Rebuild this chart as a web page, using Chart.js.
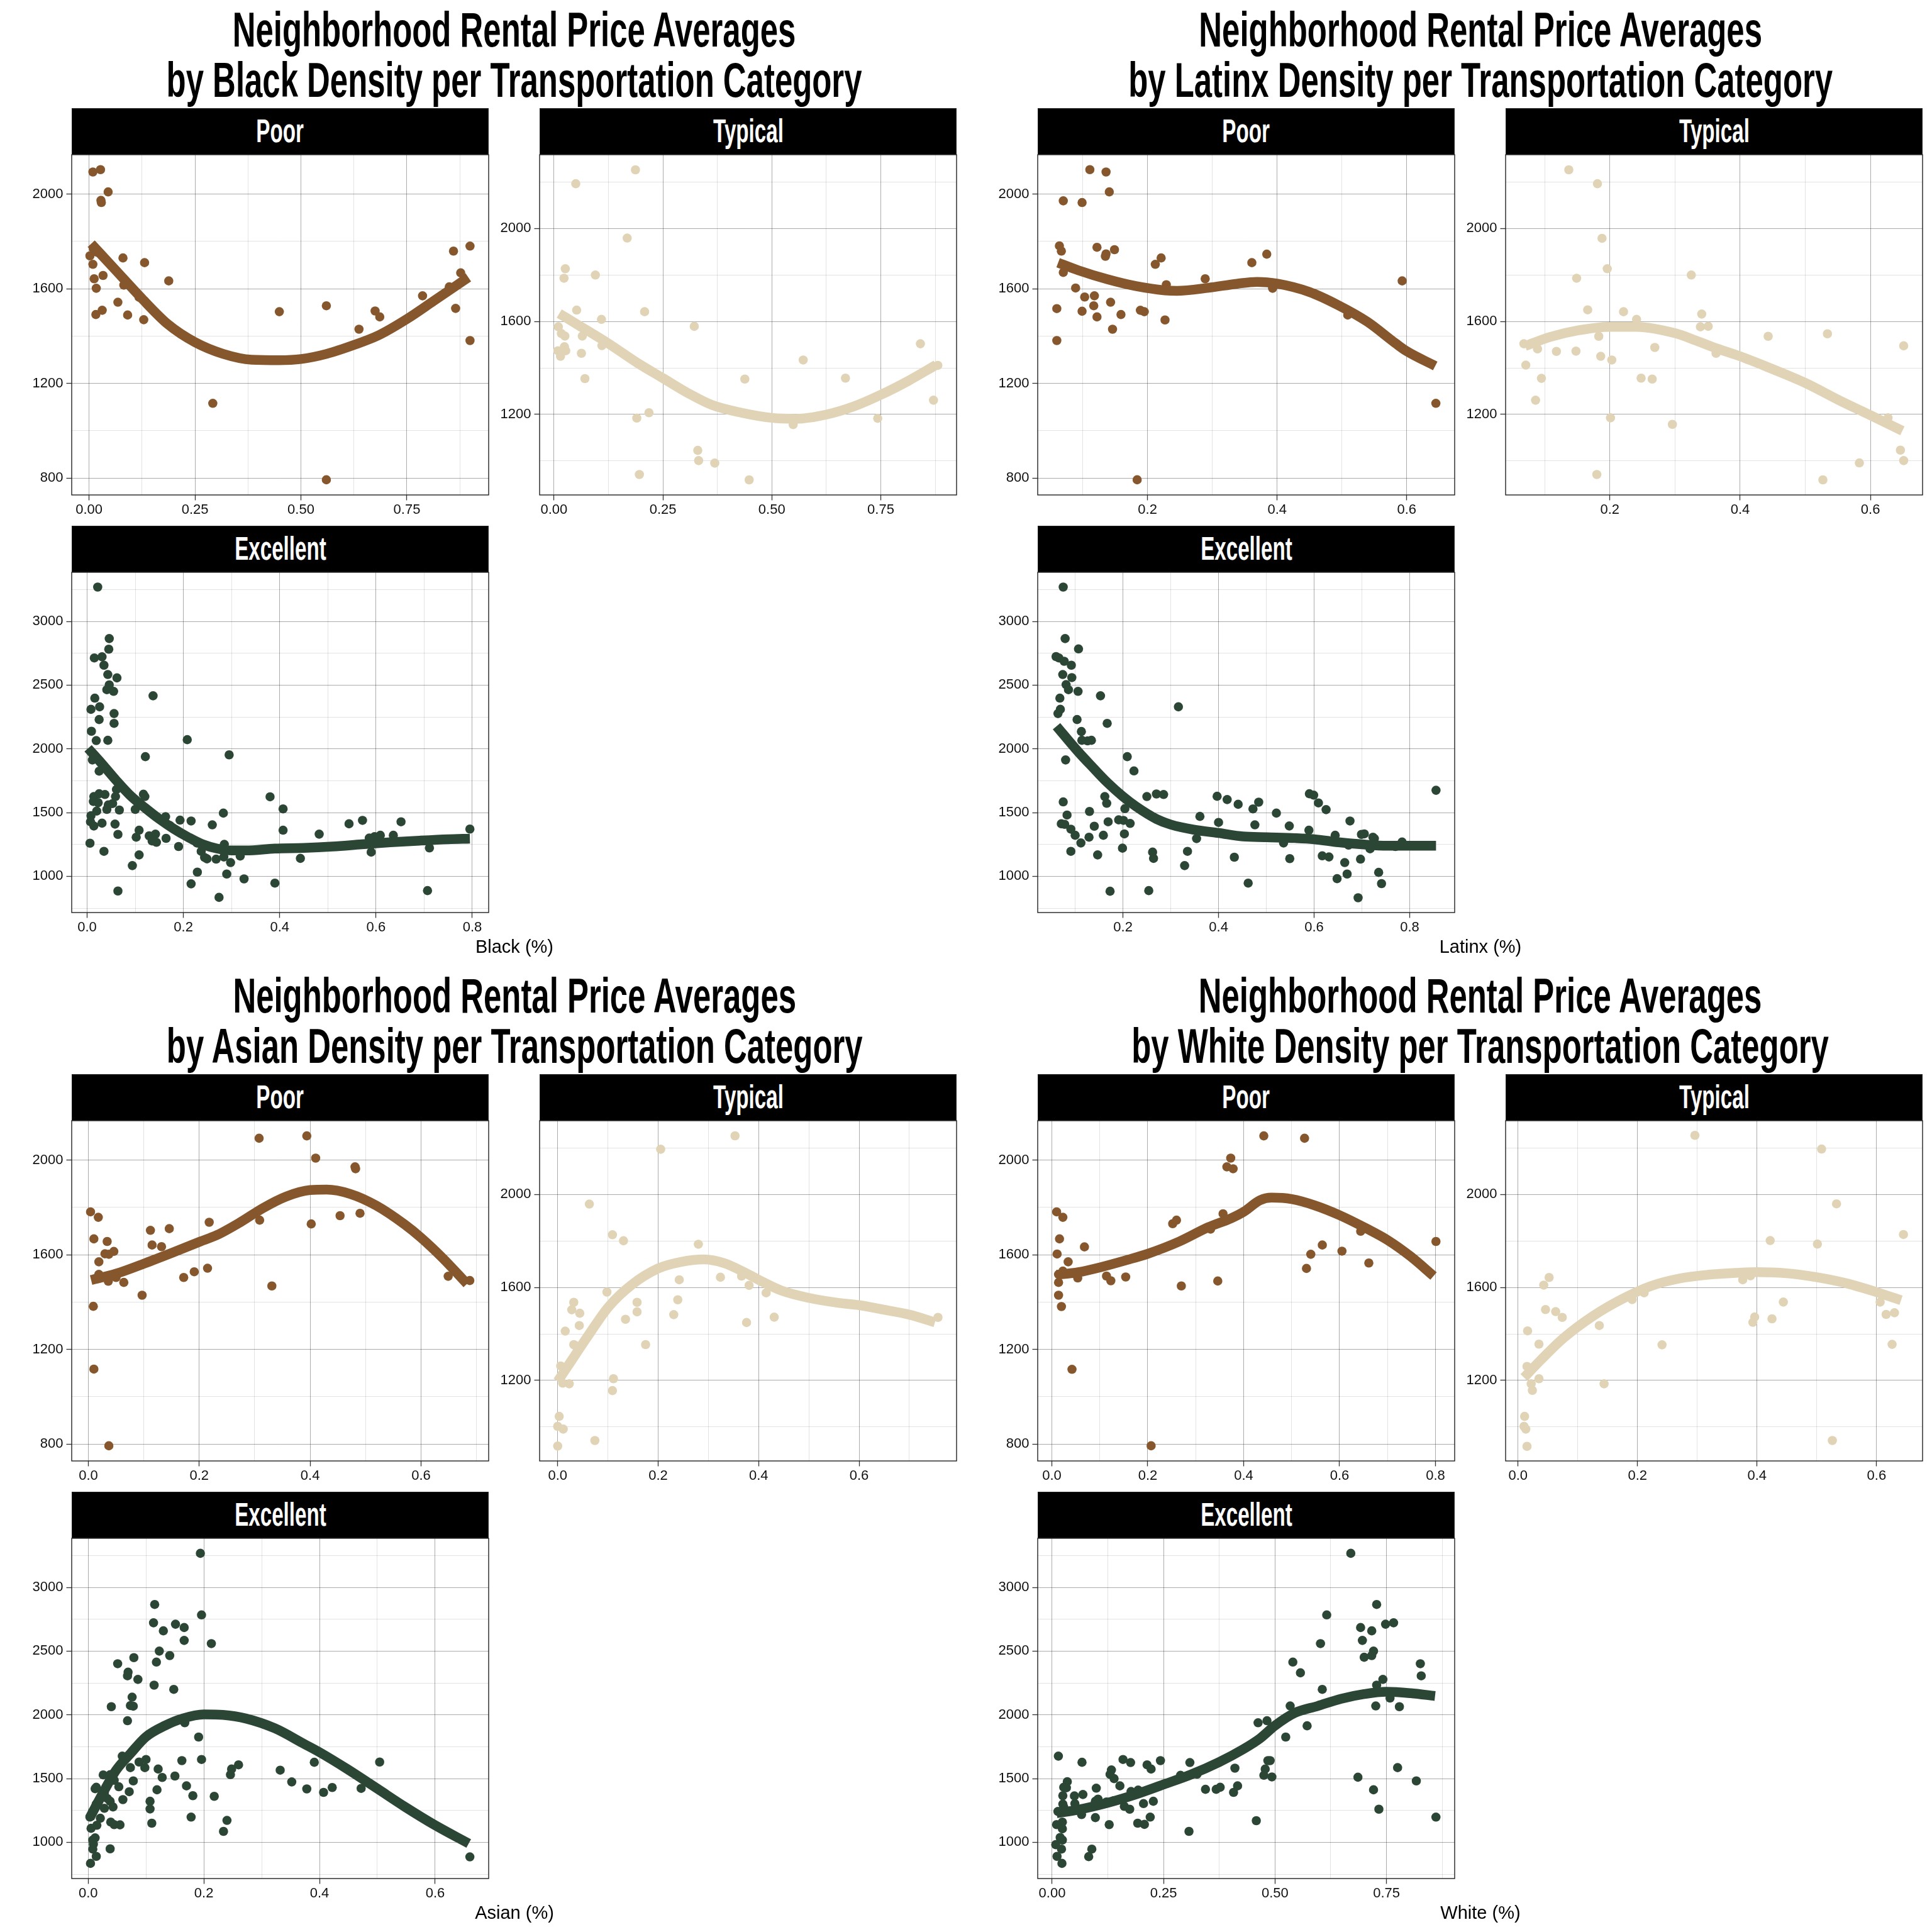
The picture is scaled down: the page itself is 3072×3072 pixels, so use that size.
<!DOCTYPE html>
<html>
<head>
<meta charset="utf-8">
<script src="https://cdn.jsdelivr.net/npm/chart.js@4.4.0/dist/chart.umd.min.js"></script>
<style>
html, body { margin: 0; padding: 0; background: #fff; }
#root { position: relative; width: 3072px; height: 3072px; overflow: hidden; background: #fff; }
canvas { position: absolute; }
.title { position: absolute; width: 1800px; text-align: center; font-family: 'Liberation Sans', Arial, sans-serif; font-weight: bold; font-size: 77px; line-height: 80px; color: #000; white-space: nowrap; }
.title span { display: inline-block; transform: scaleX(0.661); transform-origin: 50% 50%; }
.strip { position: absolute; background: #000; color: #fff; text-align: center; font-family: 'Liberation Sans', Arial, sans-serif; font-weight: bold; font-size: 51px; white-space: nowrap; box-sizing: border-box; border: 1px solid #222; }
.strip span { display: inline-block; transform: scaleX(0.65); transform-origin: 50% 50%; }
.xtitle { position: absolute; width: 600px; text-align: center; font-family: 'Liberation Sans', Arial, sans-serif; font-size: 29px; line-height: 29px; color: #000; }
</style>
</head>
<body>
<div id="root"></div>
<script>
// ---------- categories ----------
const groups = ['Black', 'Latinx', 'Asian', 'White'];
const categories = ['Poor', 'Typical', 'Excellent'];

// ---------- Black ----------
const blackPoorX = [0.009,0.027,0.045,0.028,0.029,0.002,0.010,0.019,0.009,0.012,0.033,0.017,0.016,0.031,0.080,0.131,0.082,0.068,0.091,0.129,0.188,0.118,0.292,0.449,0.560,0.560,0.637,0.675,0.686,0.787,0.850,0.860,0.865,0.877,0.899,0.899];
const blackPoorY = [2093,2103,2009,1973,1964,1739,1770,1754,1703,1642,1656,1602,1491,1509,1730,1710,1615,1543,1489,1469,1633,1564,1116,1503,1528,793,1429,1506,1481,1570,1608,1759,1517,1667,1780,1381];
const blackPoorFitX = [0.005,0.063,0.125,0.186,0.25,0.316,0.384,0.449,0.5,0.561,0.626,0.684,0.75,0.813,0.895];
const blackPoorFitY = [1790,1678,1558,1450,1374,1325,1300,1298,1303,1325,1363,1404,1472,1548,1648];

const blackTypicalX = [0.050,0.187,0.168,0.026,0.023,0.095,0.052,0.208,0.109,0.010,0.017,0.025,0.065,0.024,0.009,0.027,0.015,0.063,0.110,0.071,0.322,0.190,0.218,0.196,0.330,0.332,0.369,0.438,0.448,0.549,0.572,0.669,0.743,0.841,0.871,0.881];
const blackTypicalY = [2193,2253,1959,1827,1786,1800,1649,1642,1609,1577,1548,1537,1537,1491,1474,1474,1450,1463,1496,1354,1579,1184,1207,941,1045,1001,990,1352,918,1156,1434,1356,1183,1504,1261,1411];
const blackTypicalFitX = [0.012,0.058,0.125,0.191,0.25,0.31,0.363,0.43,0.5,0.556,0.625,0.688,0.75,0.814,0.877];
const blackTypicalFitY = [1634,1582,1505,1422,1356,1289,1240,1207,1185,1181,1199,1234,1284,1345,1413];

const blackExcellentX = [0.022,0.046,0.045,0.015,0.031,0.035,0.043,0.062,0.046,0.041,0.055,0.016,0.008,0.026,0.025,0.056,0.056,0.009,0.019,0.043,0.011,0.025,0.137,0.121,0.208,0.295,0.014,0.025,0.037,0.013,0.023,0.061,0.059,0.053,0.044,0.041,0.067,0.020,0.008,0.007,0.014,0.031,0.058,0.064,0.006,0.035,0.064,0.100,0.117,0.120,0.108,0.102,0.108,0.094,0.129,0.135,0.142,0.144,0.164,0.163,0.172,0.193,0.190,0.216,0.216,0.229,0.228,0.237,0.244,0.249,0.260,0.268,0.274,0.283,0.285,0.284,0.290,0.298,0.318,0.326,0.380,0.407,0.407,0.390,0.443,0.482,0.544,0.572,0.586,0.597,0.609,0.590,0.636,0.652,0.707,0.711,0.795];
const blackExcellentY = [3269,2865,2782,2713,2722,2656,2583,2557,2502,2464,2451,2398,2310,2330,2230,2277,2200,2138,2065,2067,1913,1825,2416,1939,2072,1953,1626,1648,1642,1587,1578,1681,1626,1571,1560,1525,1520,1512,1476,1428,1395,1417,1410,1329,1260,1196,885,1525,1644,1626,1362,1307,1168,1084,1318,1278,1331,1267,1298,1468,1399,1441,1234,1434,941,1033,1262,1196,1148,1137,1404,1135,835,1496,1251,1152,1018,1108,1159,980,1624,1529,1362,947,1141,1331,1412,1439,1300,1311,1322,1190,1322,1428,888,1223,1371];
const blackExcellentFitX = [0.002,0.029,0.059,0.089,0.12,0.15,0.18,0.21,0.24,0.27,0.30,0.33,0.39,0.45,0.51,0.57,0.63,0.69,0.75,0.795];
const blackExcellentFitY = [2004,1891,1759,1637,1538,1450,1373,1307,1251,1218,1203,1203,1218,1223,1234,1251,1267,1280,1291,1296];

// ---------- Latinx ----------
const latinxPoorX = [0.111,0.136,0.141,0.070,0.099,0.064,0.067,0.122,0.136,0.135,0.149,0.070,0.089,0.103,0.118,0.117,0.060,0.099,0.122,0.143,0.146,0.159,0.060,0.184,0.189,0.195,0.212,0.221,0.229,0.227,0.289,0.361,0.384,0.393,0.509,0.593,0.645];
const latinxPoorY = [2103,2093,2009,1971,1964,1781,1759,1775,1747,1737,1765,1669,1603,1565,1570,1528,1516,1505,1481,1543,1429,1491,1381,793,1509,1503,1703,1730,1617,1468,1642,1710,1746,1602,1489,1633,1116];
const latinxPoorFitX = [0.062,0.093,0.138,0.182,0.227,0.245,0.294,0.338,0.369,0.401,0.45,0.494,0.539,0.583,0.6,0.644];
const latinxPoorFitY = [1710,1678,1640,1611,1593,1591,1604,1621,1629,1621,1586,1531,1461,1369,1336,1274];

const latinxTypicalX = [0.137,0.181,0.188,0.196,0.149,0.325,0.166,0.221,0.241,0.341,0.339,0.351,0.183,0.068,0.089,0.118,0.148,0.186,0.203,0.269,0.363,0.443,0.534,0.651,0.071,0.095,0.248,0.265,0.086,0.201,0.296,0.591,0.627,0.180,0.527,0.583,0.646,0.651];
const latinxTypicalY = [2253,2193,1958,1827,1786,1800,1650,1642,1609,1632,1577,1579,1536,1504,1482,1471,1472,1450,1434,1488,1463,1536,1547,1495,1412,1355,1356,1352,1261,1185,1157,1207,1185,941,918,991,1046,1001];
const latinxTypicalFitX = [0.070,0.108,0.152,0.2,0.241,0.301,0.334,0.365,0.4,0.44,0.501,0.551,0.6,0.649];
const latinxTypicalFitY = [1494,1533,1562,1577,1577,1549,1516,1483,1450,1406,1334,1262,1196,1129];

const latinxExcellentX = [0.075,0.079,0.107,0.060,0.066,0.077,0.092,0.074,0.093,0.081,0.086,0.106,0.068,0.069,0.064,0.153,0.104,0.167,0.113,0.316,0.114,0.126,0.134,0.080,0.209,0.223,0.075,0.162,0.166,0.130,0.083,0.071,0.078,0.091,0.100,0.112,0.091,0.140,0.129,0.147,0.159,0.169,0.173,0.191,0.201,0.204,0.203,0.215,0.199,0.250,0.270,0.285,0.285,0.262,0.264,0.254,0.335,0.329,0.354,0.361,0.397,0.400,0.418,0.441,0.433,0.462,0.472,0.484,0.476,0.521,0.536,0.548,0.549,0.590,0.599,0.589,0.609,0.625,0.617,0.631,0.644,0.648,0.664,0.669,0.672,0.675,0.692,0.697,0.699,0.705,0.717,0.723,0.726,0.735,0.741,0.770,0.784,0.855];
const latinxExcellentY = [3269,2865,2784,2724,2713,2687,2656,2583,2559,2504,2464,2451,2398,2310,2277,2416,2230,2200,2136,2330,2067,2063,2067,1913,1939,1827,1584,1626,1573,1509,1481,1412,1408,1370,1322,1262,1196,1393,1307,1168,1322,1428,883,1443,1439,1531,1333,1415,1221,1626,1646,1642,1428,1190,1141,888,1196,1084,1296,1470,1628,1423,1602,1565,1150,947,1529,1582,1404,1496,1262,1395,1139,1648,1637,1362,1576,1523,1161,1152,1322,982,1108,1018,1245,1434,832,1135,1329,1333,1216,1307,1296,1031,943,1234,1269,1675];
const latinxExcellentFitX = [0.061,0.106,0.136,0.167,0.2,0.227,0.270,0.3,0.348,0.4,0.451,0.5,0.56,0.6,0.651,0.7,0.753,0.8,0.855];
const latinxExcellentFitY = [2178,1979,1858,1737,1626,1549,1450,1406,1366,1340,1313,1307,1300,1291,1267,1251,1240,1240,1240];

// ---------- Asian ----------
const asianPoorX = [0.308,0.394,0.410,0.481,0.482,0.004,0.018,0.218,0.309,0.402,0.454,0.490,0.112,0.146,0.010,0.034,0.115,0.132,0.046,0.030,0.037,0.019,0.019,0.036,0.050,0.064,0.097,0.172,0.191,0.215,0.331,0.649,0.688,0.009,0.010,0.037];
const asianPoorY = [2092,2102,2008,1971,1963,1781,1758,1737,1746,1730,1765,1775,1703,1710,1667,1656,1641,1634,1614,1604,1602,1570,1517,1488,1504,1483,1429,1504,1528,1543,1468,1509,1491,1382,1117,793];
const asianPoorFitX = [0.005,0.050,0.102,0.154,0.2,0.232,0.274,0.315,0.357,0.4,0.43,0.472,0.519,0.571,0.6,0.639,0.683];
const asianPoorFitY = [1493,1520,1564,1611,1654,1683,1737,1797,1846,1873,1875,1857,1808,1727,1672,1586,1477];

const asianTypicalX = [0.353,0.205,0.063,0.109,0.131,0.280,0.242,0.324,0.366,0.381,0.415,0.098,0.032,0.028,0.044,0.158,0.158,0.239,0.231,0.135,0.043,0.015,0.431,0.376,0.032,0.035,0.175,0.006,0.010,0.023,0.111,0.109,0.003,0.000,0.011,0.074,0.000,0.757];
const asianTypicalY = [2253,2195,1959,1827,1801,1786,1633,1644,1649,1609,1577,1580,1536,1504,1489,1536,1495,1547,1483,1463,1436,1412,1472,1449,1354,1350,1354,1262,1188,1185,1207,1156,1045,1002,990,941,917,1471];
const asianTypicalFitX = [0.0,0.029,0.058,0.101,0.147,0.2,0.245,0.291,0.331,0.371,0.4,0.446,0.5,0.561,0.6,0.647,0.7,0.751];
const asianTypicalFitY = [1196,1290,1384,1516,1611,1682,1710,1721,1705,1666,1633,1586,1555,1533,1524,1505,1483,1450];

const asianExcellentX = [0.194,0.115,0.196,0.113,0.151,0.166,0.130,0.166,0.213,0.123,0.141,0.079,0.118,0.051,0.069,0.068,0.086,0.114,0.148,0.076,0.073,0.078,0.040,0.068,0.167,0.191,0.059,0.196,0.162,0.088,0.100,0.098,0.073,0.121,0.260,0.248,0.246,0.150,0.128,0.078,0.026,0.038,0.045,0.053,0.012,0.014,0.170,0.119,0.071,0.181,0.218,0.060,0.107,0.107,0.038,0.014,0.028,0.043,0.021,0.003,0.008,0.005,0.015,0.039,0.045,0.055,0.110,0.178,0.240,0.234,0.008,0.012,0.009,0.008,0.038,0.014,0.004,0.332,0.352,0.378,0.391,0.407,0.422,0.472,0.504,0.660,0.028,0.033];
const asianExcellentY = [3267,2866,2784,2722,2711,2685,2659,2584,2559,2500,2465,2449,2414,2401,2335,2306,2278,2233,2200,2139,2073,2068,2064,1954,1938,1826,1676,1650,1641,1630,1650,1586,1586,1575,1608,1575,1531,1520,1509,1482,1529,1531,1487,1436,1421,1432,1443,1412,1397,1366,1361,1335,1322,1262,1322,1300,1267,1278,1189,1198,1244,1110,1134,1159,1139,1137,1150,1198,1172,1086,1018,1035,985,947,949,890,835,1566,1474,1419,1628,1392,1430,1423,1630,886,1388,1344];
const asianExcellentFitX = [0.0025,0.023,0.048,0.073,0.1,0.133,0.163,0.2,0.233,0.273,0.323,0.373,0.4,0.448,0.5,0.548,0.6,0.658];
const asianExcellentFitY = [1190,1366,1564,1696,1828,1916,1971,2004,2000,1971,1894,1773,1707,1575,1421,1278,1134,991];

// ---------- White ----------
const whitePoorX = [0.442,0.527,0.373,0.365,0.378,0.010,0.023,0.357,0.252,0.260,0.016,0.068,0.331,0.644,0.801,0.564,0.605,0.540,0.011,0.034,0.531,0.661,0.014,0.023,0.014,0.054,0.114,0.123,0.154,0.270,0.346,0.014,0.020,0.042,0.207];
const whitePoorY = [2102,2092,2008,1971,1963,1781,1758,1773,1731,1746,1667,1633,1708,1699,1656,1641,1615,1602,1603,1570,1542,1565,1517,1531,1483,1502,1510,1490,1506,1468,1489,1429,1381,1116,793];
const whitePoorFitX = [0.010,0.055,0.103,0.157,0.2,0.266,0.326,0.374,0.4,0.434,0.458,0.5,0.549,0.6,0.657,0.7,0.748,0.796];
const whitePoorFitY = [1515,1526,1548,1578,1604,1656,1716,1754,1781,1830,1841,1835,1808,1767,1710,1662,1593,1510];

const whiteTypicalX = [0.296,0.508,0.533,0.645,0.422,0.501,0.052,0.043,0.376,0.389,0.211,0.191,0.444,0.606,0.046,0.063,0.074,0.396,0.393,0.425,0.616,0.630,0.136,0.016,0.035,0.241,0.626,0.015,0.035,0.022,0.024,0.144,0.011,0.010,0.013,0.015,0.526];
const whiteTypicalY = [2255,2196,1960,1828,1802,1787,1643,1610,1633,1650,1577,1548,1537,1537,1505,1496,1471,1473,1450,1465,1484,1491,1436,1413,1356,1353,1355,1260,1207,1185,1157,1185,1045,1002,990,916,941];
const whiteTypicalFitX = [0.010,0.039,0.077,0.126,0.174,0.222,0.271,0.319,0.367,0.4,0.45,0.5,0.551,0.6,0.641];
const whiteTypicalFitY = [1212,1290,1384,1478,1550,1606,1639,1655,1663,1666,1661,1644,1617,1580,1545];

const whiteExcellentX = [0.670,0.728,0.616,0.766,0.748,0.692,0.717,0.696,0.602,0.721,0.700,0.717,0.540,0.826,0.557,0.828,0.742,0.728,0.606,0.758,0.534,0.726,0.779,0.462,0.482,0.572,0.524,0.014,0.067,0.159,0.176,0.243,0.309,0.213,0.222,0.133,0.130,0.139,0.288,0.325,0.478,0.484,0.489,0.475,0.493,0.410,0.775,0.686,0.817,0.034,0.026,0.032,0.099,0.152,0.177,0.193,0.344,0.368,0.377,0.407,0.416,0.721,0.024,0.050,0.069,0.103,0.122,0.138,0.051,0.024,0.097,0.205,0.227,0.013,0.026,0.066,0.097,0.162,0.174,0.220,0.733,0.010,0.023,0.023,0.128,0.192,0.207,0.307,0.458,0.861,0.008,0.018,0.023,0.021,0.089,0.011,0.082,0.022];
const whiteExcellentY = [3267,2866,2784,2722,2711,2685,2659,2584,2559,2500,2452,2465,2414,2401,2330,2306,2278,2233,2200,2132,2070,2070,2064,1938,1954,1914,1826,1676,1628,1650,1626,1641,1626,1608,1575,1568,1533,1500,1526,1535,1575,1641,1641,1526,1513,1582,1586,1511,1482,1476,1432,1428,1425,1443,1399,1410,1416,1416,1432,1392,1443,1412,1366,1364,1375,1339,1317,1326,1304,1300,1322,1304,1322,1242,1278,1218,1194,1282,1260,1198,1260,1139,1159,1106,1139,1150,1141,1086,1170,1198,982,1038,1018,947,947,890,888,835];
const whiteExcellentFitX = [0.010,0.058,0.125,0.188,0.25,0.311,0.375,0.428,0.467,0.5,0.544,0.596,0.648,0.7,0.75,0.804,0.859];
const whiteExcellentFitY = [1229,1256,1311,1377,1454,1531,1630,1729,1817,1916,2015,2070,2126,2163,2181,2170,2148];

// ---------- tick labels ----------
const xMajorQuarter = [0, 0.25, 0.5, 0.75];
const xMinorQuarter = [0.125, 0.375, 0.625, 0.875];
const xMajorFifth = [0, 0.2, 0.4, 0.6, 0.8];
const xMinorFifth = [0.1, 0.3, 0.5, 0.7, 0.9];
const yMajorPoor = [800, 1200, 1600, 2000];
const yMinorPoor = [1000, 1400, 1800, 2200];
const yMajorTypical = [1200, 1600, 2000];
const yMinorTypical = [1000, 1400, 1800, 2200];
const yMajorExcellent = [1000, 1500, 2000, 2500, 3000];
const yMinorExcellent = [750, 1250, 1750, 2250, 2750, 3250];

// ---------- assembly tables (built from the arrays above) ----------
const seriesTable = {
  Black:  { Poor: [blackPoorX, blackPoorY, blackPoorFitX, blackPoorFitY], Typical: [blackTypicalX, blackTypicalY, blackTypicalFitX, blackTypicalFitY], Excellent: [blackExcellentX, blackExcellentY, blackExcellentFitX, blackExcellentFitY] },
  Latinx: { Poor: [latinxPoorX, latinxPoorY, latinxPoorFitX, latinxPoorFitY], Typical: [latinxTypicalX, latinxTypicalY, latinxTypicalFitX, latinxTypicalFitY], Excellent: [latinxExcellentX, latinxExcellentY, latinxExcellentFitX, latinxExcellentFitY] },
  Asian:  { Poor: [asianPoorX, asianPoorY, asianPoorFitX, asianPoorFitY], Typical: [asianTypicalX, asianTypicalY, asianTypicalFitX, asianTypicalFitY], Excellent: [asianExcellentX, asianExcellentY, asianExcellentFitX, asianExcellentFitY] },
  White:  { Poor: [whitePoorX, whitePoorY, whitePoorFitX, whitePoorFitY], Typical: [whiteTypicalX, whiteTypicalY, whiteTypicalFitX, whiteTypicalFitY], Excellent: [whiteExcellentX, whiteExcellentY, whiteExcellentFitX, whiteExcellentFitY] }
};
const xLimits = {
  Black:  { Poor: [-0.041, 0.943], Typical: [-0.033, 0.924], Excellent: [-0.032, 0.834] },
  Latinx: { Poor: [0.0305, 0.674], Typical: [0.040, 0.680], Excellent: [0.0216, 0.894] },
  Asian:  { Poor: [-0.030, 0.722], Typical: [-0.036, 0.794], Excellent: [-0.0285, 0.6925] },
  White:  { Poor: [-0.0295, 0.840], Typical: [-0.0208, 0.677], Excellent: [-0.0324, 0.903] }
};
const yLimits = { Poor: [729, 2166], Typical: [853, 2318], Excellent: [716, 3385] };
const xQuarterPanels = { 'Black-Poor': 1, 'Black-Typical': 1, 'White-Excellent': 1 };
const yTickTable = {
  Poor: [yMajorPoor, yMinorPoor], Typical: [yMajorTypical, yMinorTypical], Excellent: [yMajorExcellent, yMinorExcellent]
};

// ---------- styling / layout ----------
const COLORS = { Poor: '#86572D', Typical: '#E1D3B5', Excellent: '#2C4636' };
const GROUP_ORIGIN = [[0, 0], [1536, 0], [0, 1536], [1536, 1536]];
const PANEL_POS = { Poor: [114, 246], Typical: [858, 246], Excellent: [114, 910] };
const PW = 663, PH = 541, STRIP_H = 74;
const LM = 110, TM = 24, RM = 24, BM = 56;
const MAJOR_GRID = 'rgba(0,0,0,0.33)';
const MINOR_GRID = 'rgba(0,0,0,0.11)';
const TICK_FONT = { family: "'Liberation Sans', Arial, sans-serif", size: 22 };

const root = document.getElementById('root');

const borderPlugin = {
  id: 'panelBorder',
  afterDraw(chart) {
    const a = chart.chartArea, c = chart.ctx;
    c.save();
    c.strokeStyle = '#222';
    c.lineWidth = 1.4;
    c.strokeRect(a.left, a.top, a.right - a.left, a.bottom - a.top);
    c.restore();
  }
};

function inRange(v, r) { return v >= r[0] && v <= r[1]; }

function makePanel(gi, cat) {
  const g = groups[gi];
  const [px, py, fx, fy] = seriesTable[g][cat];
  const [ox, oy] = GROUP_ORIGIN[gi];
  const pl = ox + PANEL_POS[cat][0], pt = oy + PANEL_POS[cat][1];
  const xr = xLimits[g][cat], yr = yLimits[cat];
  const quarter = !!xQuarterPanels[g + '-' + cat];
  const xMaj = (quarter ? xMajorQuarter : xMajorFifth).filter(v => inRange(v, xr));
  const xMin = (quarter ? xMinorQuarter : xMinorFifth).filter(v => inRange(v, xr));
  const xDec = quarter ? 2 : 1;
  const yMaj = yTickTable[cat][0].filter(v => inRange(v, yr));
  const yMin = yTickTable[cat][1].filter(v => inRange(v, yr));
  const xAll = xMaj.concat(xMin).sort((a, b) => a - b);
  const yAll = yMaj.concat(yMin).sort((a, b) => a - b);

  const W = PW + LM + RM, H = PH + TM + BM;
  const cv = document.createElement('canvas');
  cv.width = W; cv.height = H;
  cv.style.left = (pl - LM) + 'px';
  cv.style.top = (pt - TM) + 'px';
  cv.style.width = W + 'px';
  cv.style.height = H + 'px';
  root.appendChild(cv);

  const points = px.map((x, i) => ({ x: x, y: py[i] }));
  const fit = fx.map((x, i) => ({ x: x, y: fy[i] }));
  const isMajX = v => xMaj.indexOf(v) >= 0;
  const isMajY = v => yMaj.indexOf(v) >= 0;

  new Chart(cv, {
    type: 'scatter',
    data: {
      datasets: [
        { type: 'line', data: fit, order: 0, borderColor: COLORS[cat], borderWidth: 15.5, borderCapStyle: 'butt', borderJoinStyle: 'round', pointRadius: 0, pointHoverRadius: 0, fill: false, cubicInterpolationMode: 'monotone' },
        { type: 'scatter', data: points, order: 1, backgroundColor: COLORS[cat], pointBackgroundColor: COLORS[cat], pointBorderWidth: 0, pointRadius: 7.3, pointHoverRadius: 7.3 }
      ]
    },
    options: {
      responsive: false,
      animation: false,
      events: [],
      layout: { padding: { left: 0, top: TM, right: RM, bottom: 0 } },
      plugins: { legend: { display: false }, tooltip: { enabled: false }, title: { display: false } },
      scales: {
        x: {
          type: 'linear', position: 'bottom', min: xr[0], max: xr[1], bounds: 'data',
          afterBuildTicks: s => { s.ticks = xAll.map(v => ({ value: v })); },
          afterFit: s => { s.height = BM; },
          border: { display: false },
          grid: {
            color: ctx => (ctx.tick && isMajX(ctx.tick.value)) ? MAJOR_GRID : MINOR_GRID,
            lineWidth: 1,
            drawTicks: true, tickLength: 8.5, tickWidth: 1.3,
            tickColor: ctx => (ctx.tick && isMajX(ctx.tick.value)) ? '#333' : 'rgba(0,0,0,0)'
          },
          ticks: {
            autoSkip: false, maxRotation: 0, minRotation: 0, padding: 2, color: '#111', font: TICK_FONT,
            callback: v => isMajX(v) ? v.toFixed(xDec) : ''
          }
        },
        y: {
          type: 'linear', position: 'left', min: yr[0], max: yr[1], bounds: 'data',
          afterBuildTicks: s => { s.ticks = yAll.map(v => ({ value: v })); },
          afterFit: s => { s.width = LM; },
          border: { display: false },
          grid: {
            color: ctx => (ctx.tick && isMajY(ctx.tick.value)) ? MAJOR_GRID : MINOR_GRID,
            lineWidth: 1,
            drawTicks: true, tickLength: 8.5, tickWidth: 1.3,
            tickColor: ctx => (ctx.tick && isMajY(ctx.tick.value)) ? '#333' : 'rgba(0,0,0,0)'
          },
          ticks: {
            autoSkip: false, padding: 5, color: '#111', font: TICK_FONT,
            callback: v => isMajY(v) ? String(v) : ''
          }
        }
      }
    },
    plugins: [borderPlugin]
  });

  const strip = document.createElement('div');
  strip.className = 'strip';
  strip.style.left = pl + 'px';
  strip.style.top = (pt - STRIP_H) + 'px';
  strip.style.width = PW + 'px';
  strip.style.height = STRIP_H + 'px';
  strip.style.lineHeight = (STRIP_H - 2) + 'px';
  const ss = document.createElement('span');
  ss.textContent = cat;
  strip.appendChild(ss);
  root.appendChild(strip);
}

groups.forEach((g, gi) => {
  const [ox, oy] = GROUP_ORIGIN[gi];
  const t = document.createElement('div');
  t.className = 'title';
  t.style.left = (ox + 818 - 900) + 'px';
  t.style.top = (oy + 7) + 'px';
  const sp = document.createElement('span');
  sp.innerHTML = 'Neighborhood Rental Price Averages<br>by ' + g + ' Density per Transportation Category';
  t.appendChild(sp);
  root.appendChild(t);

  categories.forEach(cat => makePanel(gi, cat));

  const xt = document.createElement('div');
  xt.className = 'xtitle';
  xt.style.left = (ox + 818 - 300) + 'px';
  xt.style.top = (oy + 1491) + 'px';
  xt.textContent = g + ' (%)';
  root.appendChild(xt);
});
</script>
</body>
</html>
